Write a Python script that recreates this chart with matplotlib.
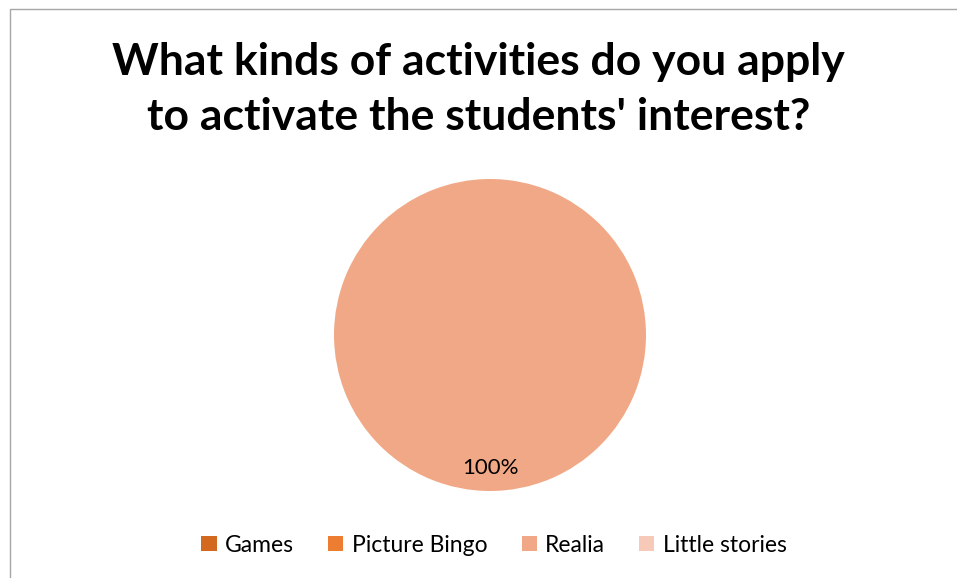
import matplotlib.pyplot as plt
from matplotlib.patches import Rectangle

activities = ['Games', 'Picture Bingo', 'Realia', 'Little stories']
shares = [0, 0, 100, 0]
colors = ['#D2691F', '#ED7D31', '#F1A886', '#F7C9B8']
title_lines = ["What kinds of activities do you apply",
               "to activate the students' interest?"]

plt.rcParams['font.family'] = ['Lato', 'DejaVu Sans']

W, H = 957, 578
fig = plt.figure(figsize=(W / 100, H / 100), dpi=100)

# chart area outline (only left and top edges fall inside the image)
fig.patches.append(Rectangle((10 / W, -0.05), 1.0, 1 - 9 / H + 0.05,
                             transform=fig.transFigure, fill=False,
                             edgecolor='#A6A6A6', linewidth=1.0))

# two title lines, placed by baseline
for line, base in zip(title_lines, [75, 130]):
    fig.text(0.5, 1 - base / H, line, ha='center', va='baseline',
             fontsize=32, fontweight='bold')

ax = fig.add_axes([334 / W, 1 - 491 / H, 312 / W, 312 / H])


def pct_label(p):
    return f'{p:.0f}%' if p > 0 else ''


wedges, texts, autotexts = ax.pie(shares, colors=colors, startangle=90,
                                  counterclock=False, autopct=pct_label,
                                  pctdistance=0.85,
                                  wedgeprops=dict(linewidth=0),
                                  textprops=dict(fontsize=16, color='black'))
ax.set_xlim(-1, 1)
ax.set_ylim(-1, 1)
ax.set_aspect('equal')

fig.legend(wedges, activities, loc='center', bbox_to_anchor=(494 / W, 1 - 545 / H),
           ncol=4, frameon=False, fontsize=16.5, handlelength=0.66,
           handleheight=0.66, handletextpad=0.36, columnspacing=1.5,
           borderpad=0, borderaxespad=0)

fig.savefig('out.png', dpi=100)
